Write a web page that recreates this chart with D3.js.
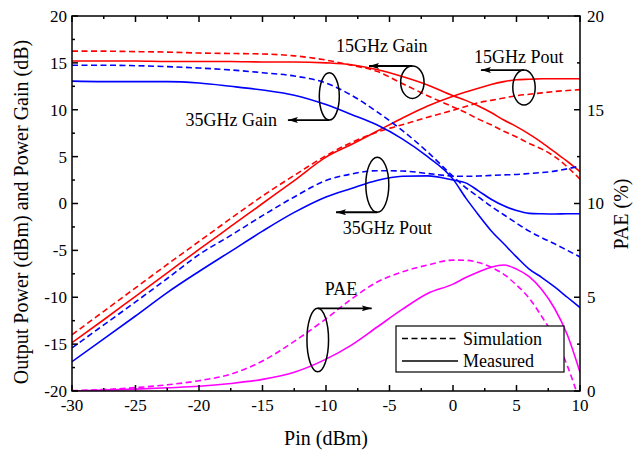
<!DOCTYPE html>
<html><head><meta charset="utf-8">
<script src="https://cdn.jsdelivr.net/npm/d3@7"></script>
<style>body{margin:0;background:#fff}svg{display:block}text{font-family:"Liberation Serif","Times New Roman",serif;fill:#000}</style>
</head><body><div id="chart"></div>
<script>
// ---- data ----
const pin      = [-30,-27.5,-25,-22.5,-20,-17.5,-15,-12.5,-10,-8,-6,-4,-2,0,1,2,3,4,5,6,7,8,9,10];
const gain15M  = [15.2,15.2,15.2,15.15,15.15,15.15,15.1,15.1,15.0,14.8,14.3,13.55,12.65,11.5,11.0,10.4,9.7,8.9,8.2,7.4,6.5,5.5,4.5,3.4];
const gain15S  = [16.25,16.25,16.2,16.15,16.05,16.0,15.95,15.75,15.3,14.75,14.1,12.8,11.5,10.3,9.7,9.0,8.4,7.7,7.1,6.4,5.8,5.0,3.9,2.6];
const pout15M  = [-14.85,-12.4,-9.9,-7.4,-4.9,-2.45,0.0,2.45,4.95,6.3,7.7,9.1,10.4,11.45,11.9,12.3,12.7,13.0,13.2,13.25,13.3,13.3,13.3,13.3];
const pout15S  = [-14.0,-11.5,-9.0,-6.5,-4.05,-1.6,0.8,3.0,5.1,6.5,7.6,8.4,9.2,9.95,10.35,10.75,11.0,11.25,11.5,11.65,11.8,11.95,12.05,12.15];
const gain35M  = [13.05,13.0,13.0,13.0,12.85,12.5,12.1,11.55,10.55,9.5,8.4,6.9,5.0,2.6,0.6,-1.2,-2.9,-4.3,-5.7,-7.0,-7.9,-8.9,-10.0,-11.1];
const gain35S  = [14.75,14.75,14.7,14.6,14.45,14.25,13.95,13.6,12.85,11.55,9.8,7.8,5.5,2.9,1.7,0.7,-0.3,-1.2,-2.1,-2.95,-3.65,-4.3,-5.0,-5.7];
const pout35M  = [-16.87,-14.45,-12.0,-9.5,-7.25,-5.1,-2.95,-0.95,0.7,1.6,2.45,2.9,2.95,2.5,2.2,1.35,0.45,-0.25,-0.75,-1.05,-1.1,-1.12,-1.1,-1.1];
const pout35S  = [-15.4,-12.95,-10.5,-8.0,-5.45,-3.4,-1.3,0.7,2.45,3.15,3.5,3.47,3.2,2.93,2.9,2.93,3.0,3.05,3.1,3.2,3.3,3.45,3.7,4.0];
const paeM     = [0.0,0.05,0.1,0.17,0.25,0.4,0.62,1.0,1.7,2.45,3.4,4.35,5.2,5.7,6.05,6.35,6.6,6.72,6.5,6.1,5.4,4.4,3.0,1.0];
const paeS     = [0.02,0.08,0.18,0.33,0.55,0.9,1.6,2.65,3.85,4.9,5.8,6.35,6.72,6.98,6.97,6.85,6.6,6.22,5.65,4.95,3.96,2.85,1.35,-0.6];
const xTicks = [-30,-25,-20,-15,-10,-5,0,5,10];
const yTicks = [-20,-15,-10,-5,0,5,10,15,20];
const y2Ticks = [0,5,10,15,20];

const W=636,H=455, L=72,R=580,T=16,B=391;
const svg=d3.select("#chart").append("svg").attr("width",W).attr("height",H);
const x=d3.scaleLinear().domain([-30,10]).range([L,R]);
const y=d3.scaleLinear().domain([-20,20]).range([B,T]);
const y2=d3.scaleLinear().domain([0,20]).range([B,T]);

svg.append("defs").append("clipPath").attr("id","clip").append("rect")
  .attr("x",L).attr("y",T).attr("width",R-L).attr("height",B-T);
svg.select("defs").append("marker").attr("id","ah").attr("viewBox","0 0 10 6")
  .attr("refX",10).attr("refY",3).attr("markerWidth",10).attr("markerHeight",6)
  .attr("markerUnits","userSpaceOnUse").attr("orient","auto")
  .append("path").attr("d","M0,0L10,3L0,6L2,3Z").attr("fill","#000");

const g=svg.append("g").attr("clip-path","url(#clip)");
const series=[
  {v:gain15M,c:"#ff0000",d:null,s:y},{v:gain15S,c:"#ff0000",d:"6,3.5",s:y},
  {v:pout15M,c:"#ff0000",d:null,s:y},{v:pout15S,c:"#ff0000",d:"6,3.5",s:y},
  {v:gain35M,c:"#0000ff",d:null,s:y},{v:gain35S,c:"#0000ff",d:"6,3.5",s:y},
  {v:pout35M,c:"#0000ff",d:null,s:y},{v:pout35S,c:"#0000ff",d:"6,3.5",s:y},
  {v:paeM,c:"#ff00ff",d:null,s:y2},{v:paeS,c:"#ff00ff",d:"6,3.5",s:y2}
];
series.forEach(sr=>{
  const line=d3.line().x((d,i)=>x(pin[i])).y(d=>sr.s(d)).curve(d3.curveMonotoneX);
  g.append("path").attr("d",line(sr.v)).attr("fill","none").attr("stroke",sr.c)
   .attr("stroke-width",1.6).attr("stroke-dasharray",sr.d);
});

// axes frame & ticks
const ax=svg.append("g").attr("stroke","#000").attr("stroke-width",1.5);
ax.append("rect").attr("x",L).attr("y",T).attr("width",R-L).attr("height",B-T).attr("fill","none");
const xMinor=d3.range(-27.5,10,5), yMinor=d3.range(-17.5,20,5);
xTicks.forEach(t=>{ax.append("line").attr("x1",x(t)).attr("x2",x(t)).attr("y1",B).attr("y2",B-6);
  ax.append("line").attr("x1",x(t)).attr("x2",x(t)).attr("y1",T).attr("y2",T+6);});
xMinor.forEach(t=>{ax.append("line").attr("x1",x(t)).attr("x2",x(t)).attr("y1",B).attr("y2",B-3);
  ax.append("line").attr("x1",x(t)).attr("x2",x(t)).attr("y1",T).attr("y2",T+3);});
yTicks.forEach(t=>ax.append("line").attr("x1",L).attr("x2",L+6).attr("y1",y(t)).attr("y2",y(t)));
yMinor.forEach(t=>ax.append("line").attr("x1",L).attr("x2",L+3).attr("y1",y(t)).attr("y2",y(t)));
y2Ticks.forEach(t=>ax.append("line").attr("x1",R).attr("x2",R-6).attr("y1",y2(t)).attr("y2",y2(t)));
d3.range(2.5,20,5).forEach(t=>ax.append("line").attr("x1",R).attr("x2",R-3).attr("y1",y2(t)).attr("y2",y2(t)));

const fs=17;
xTicks.forEach(t=>svg.append("text").attr("x",x(t)).attr("y",B+20).attr("text-anchor","middle").attr("font-size",fs).text(t));
yTicks.forEach(t=>svg.append("text").attr("x",L-5).attr("y",y(t)).attr("dy","0.35em").attr("text-anchor","end").attr("font-size",fs).text(t));
y2Ticks.forEach(t=>svg.append("text").attr("x",R+7).attr("y",y2(t)).attr("dy","0.35em").attr("text-anchor","start").attr("font-size",fs).text(t));

svg.append("text").attr("x",(L+R)/2).attr("y",445).attr("text-anchor","middle").attr("font-size",20).text("Pin (dBm)");
svg.append("text").attr("transform","translate(28,212) rotate(-90)").attr("text-anchor","middle").attr("font-size",20).text("Output Power (dBm) and Power Gain (dB)");
svg.append("text").attr("transform","translate(628,214) rotate(-90)").attr("text-anchor","middle").attr("font-size",20).text("PAE (%)");

// annotations: ellipse centre in data units, arrow end in data units
const notes=[
  {label:"PAE",cx:-10.65,cy:-14.56,rx:10.8,ry:31.7,from:"top",toX:-6.4,tx:-8.82,ty:-9.76,anchor:"middle"},
  {label:"35GHz Gain",cx:-9.74,cy:11.43,rx:10,ry:23.7,from:"bottom",toX:-13.0,tx:-13.86,ty:8.27,anchor:"end"},
  {label:"15GHz Gain",cx:-3.2,cy:12.94,rx:11.7,ry:16.2,from:"top",toX:-6.61,tx:-9.21,ty:16.16,anchor:"start"},
  {label:"15GHz Pout",cx:5.59,cy:12.37,rx:11.2,ry:17.5,from:"top",toX:2.2,tx:1.65,ty:15.04,anchor:"start"},
  {label:"35GHz Pout",cx:-5.96,cy:2.0,rx:11.5,ry:27.5,from:"bottom",toX:-9.21,tx:-8.69,ty:-3.25,anchor:"start"}
];
const an=svg.append("g");
notes.forEach(n=>{
  const cx=x(n.cx), cy=y(n.cy);
  an.append("ellipse").attr("cx",cx).attr("cy",cy).attr("rx",n.rx).attr("ry",n.ry)
    .attr("fill","none").attr("stroke","#000").attr("stroke-width",1.5);
  const ay = n.from==="top"? cy-n.ry : cy+n.ry;
  an.append("line").attr("x1",cx).attr("y1",ay).attr("x2",x(n.toX)).attr("y2",ay)
    .attr("stroke","#000").attr("stroke-width",1.8).attr("marker-end","url(#ah)");
  an.append("text").attr("x",x(n.tx)).attr("y",y(n.ty)).attr("text-anchor",n.anchor)
    .attr("font-size",18).text(n.label);
});

// legend
const lg=svg.append("g");
lg.append("rect").attr("x",396).attr("y",326).attr("width",168).attr("height",46)
  .attr("fill","#fff").attr("stroke","#000").attr("stroke-width",1.2);
lg.append("line").attr("x1",402).attr("x2",458).attr("y1",338.5).attr("y2",338.5).attr("stroke","#000").attr("stroke-width",1.6).attr("stroke-dasharray","6,3.5");
lg.append("line").attr("x1",402).attr("x2",458).attr("y1",361).attr("y2",361).attr("stroke","#000").attr("stroke-width",1.6);
lg.append("text").attr("x",463).attr("y",344.5).attr("font-size",18).text("Simulation");
lg.append("text").attr("x",463).attr("y",367).attr("font-size",18).text("Measured");
</script></body></html>
